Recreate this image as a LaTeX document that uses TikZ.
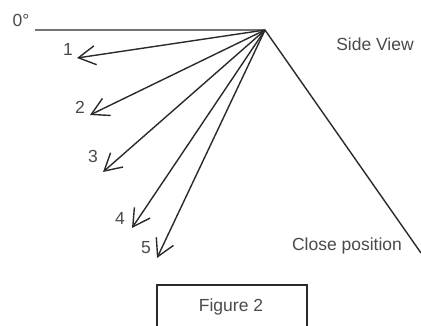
\documentclass[tikz,border=0pt]{standalone}
\usepackage{fontspec}
\setmainfont{Liberation Sans}
\usetikzlibrary{arrows.meta}
\definecolor{ln}{HTML}{2A2A2A}
\definecolor{tx}{HTML}{4A4A4A}
\begin{document}
\begin{tikzpicture}[x=1pt,y=-1pt,
  ray/.style={draw=ln,line width=1.4pt,-{Straight Barb[length=17pt,width=19pt,line width=1.4pt]}},
  lbl/.style={text=tx,font=\fontsize{17.5}{19}\selectfont,inner sep=0pt}]
\useasboundingbox (0,0) rectangle (421,325);
\coordinate (P) at (265,30);
\coordinate (L) at (35,30);
\coordinate (C) at (421,253);
\coordinate (a1) at (77,58);
\coordinate (a2) at (90,115);
\coordinate (a3) at (103,172);
\coordinate (a4) at (132,228);
\coordinate (a5) at (157,258);
\draw[ln,line width=1.4pt] (L) -- (P) -- (C);
\foreach \i in {1,...,5} \draw[ray] (P) -- (a\i);
\node[lbl] (z) at (21,20) {0°};
\node[lbl] (n1) at (68,49) {1};
\node[lbl] (n2) at (80,107) {2};
\node[lbl] (n3) at (93,156) {3};
\node[lbl] (n4) at (120,218) {4};
\node[lbl] (n5) at (146,248) {5};
\node[lbl] (sv) at (375,44) {Side View};
\node[lbl] (cp) at (347,246) {Close position};
\draw[ln,line width=1.3pt] (157,326) -- (157,285) -- (307,285) -- (307,326);
\node[lbl] (fig) at (231,307) {Figure 2};
\end{tikzpicture}
\end{document}
